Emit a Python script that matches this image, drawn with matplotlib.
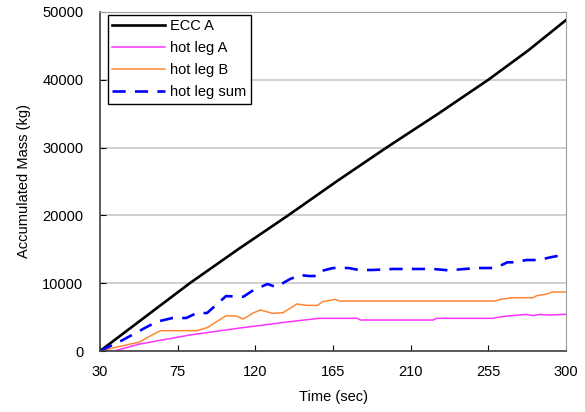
import matplotlib
matplotlib.use("Agg")
import matplotlib.pyplot as plt

plt.rcParams['font.family'] = ['Liberation Sans', 'DejaVu Sans']

# ECC A
t_ecc = [30, 56, 82, 110, 139, 167, 196, 226, 255, 278, 300]
m_ecc = [0, 5000, 10000, 15000, 20000, 25000, 30000, 35000, 40000, 44300, 48800]

# hot leg A
t_ha = [30, 38, 53, 82, 111, 140, 157, 179, 181, 223, 225, 258, 260, 266, 277, 281, 285, 290, 300]
m_ha = [0, 0, 1030, 2360, 3390, 4330, 4820, 4820, 4570, 4570, 4820, 4820, 4960, 5160, 5400, 5220, 5400, 5300, 5420]

# hot leg B
t_hb = [30, 40, 53, 59, 65, 86, 92, 103, 109, 113, 119, 123, 130, 136, 144, 150, 156, 159, 166, 169,
        259, 262, 269, 281, 283, 289, 292, 300]
m_hb = [0, 600, 1330, 2210, 3000, 3000, 3440, 5200, 5150, 4720, 5650, 6050, 5550, 5650, 6930, 6730,
        6730, 7270, 7620, 7370, 7370, 7620, 7860, 7860, 8160, 8400, 8700, 8700]

# hot leg sum
t_hs = [30, 43, 57, 63, 72, 80, 86, 92, 103, 113, 119, 127, 132, 140, 146, 151, 156, 159, 165, 174,
        180, 188, 200, 223, 232, 248, 258, 262, 266, 270, 277, 284, 291, 300]
m_hs = [0, 1600, 3540, 4330, 4870, 4870, 5600, 5600, 8100, 8000, 9000, 9880, 9440, 10600, 11200, 11060,
        11060, 11850, 12240, 12240, 11950, 11950, 12100, 12100, 11900, 12240, 12240, 12590, 13080, 13080,
        13420, 13420, 13820, 14260]

xticks = [30, 75, 120, 165, 210, 255, 300]
yticks = [0, 10000, 20000, 30000, 40000, 50000]

fig = plt.figure(figsize=(5.85, 4.12), dpi=100)
ax = fig.add_axes([0.171, 0.148, 0.7965, 0.823])

ax.plot(t_ecc, m_ecc, color='black', lw=1.9, label='ECC A')
ax.plot(t_ha, m_ha, color='#ff33ff', lw=1.1, label='hot leg A')
ax.plot(t_hb, m_hb, color='#ff8833', lw=1.1, label='hot leg B')
ax.plot(t_hs, m_hs, color='#0000ff', lw=1.9, dashes=(5, 3.5), label='hot leg sum')

ax.set_xlim(30, 300)
ax.set_ylim(0, 50000)
ax.set_xticks(xticks)
ax.set_yticks(yticks)
ax.tick_params(direction='in', labelsize=10.5, length=4)
ax.tick_params(axis='x', pad=10)
ax.tick_params(axis='y', pad=12)
ax.grid(axis='y', color='#c8c8c8', lw=1.2)
ax.set_axisbelow(True)
for s in ['top', 'right']:
    ax.spines[s].set_color('#a0a0a0')
for s in ['left', 'bottom']:
    ax.spines[s].set_color('#404040')
    ax.spines[s].set_linewidth(1.2)

ax.set_xlabel('Time (sec)', fontsize=10.5, labelpad=8)
ax.set_ylabel('Accumulated Mass (kg)', fontsize=10.5, labelpad=8)

leg = ax.legend(loc='upper left', bbox_to_anchor=(0.017, 0.991), fontsize=10.5, frameon=True,
                fancybox=False, edgecolor='black', framealpha=1, borderpad=0.3,
                labelspacing=0.55, handlelength=3.6, handletextpad=0.35, borderaxespad=0)
leg.get_frame().set_linewidth(1.0)

fig.savefig('out.png', dpi=100)
